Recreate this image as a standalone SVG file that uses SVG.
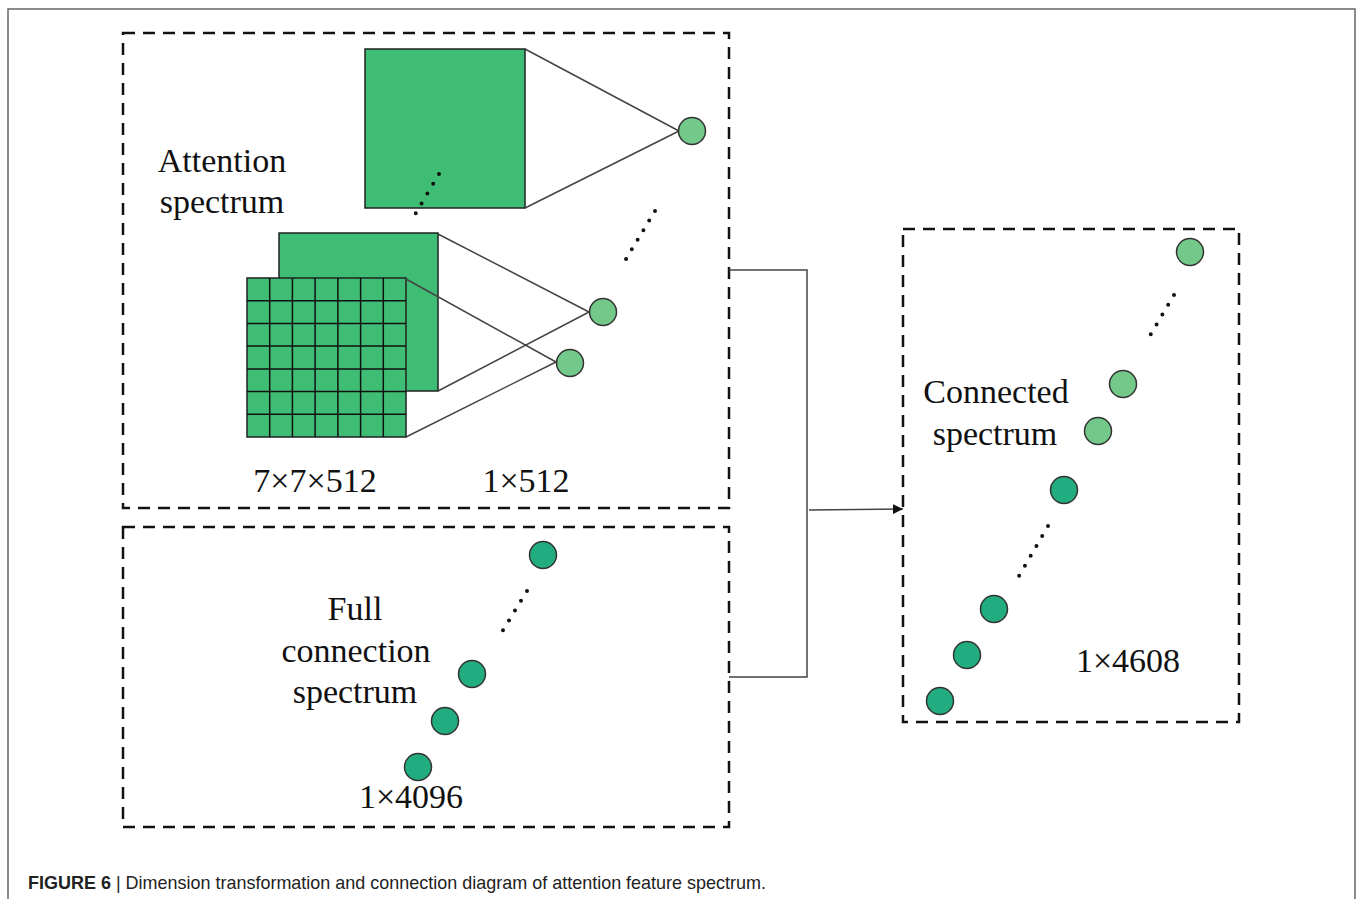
<svg xmlns="http://www.w3.org/2000/svg" width="1358" height="899" viewBox="0 0 1358 899">
<defs>
<style>
.box{fill:none;stroke:#111;stroke-width:2.5;stroke-dasharray:12 8}
.sq{fill:#3fbd74;stroke:#222;stroke-width:1.5}
.grid{stroke:#111;stroke-width:1.5}
.ln{stroke:#444;stroke-width:1.5;fill:none}
.lc{fill:#72c98a;stroke:#333;stroke-width:1.5}
.dc{fill:#21ad80;stroke:#333;stroke-width:1.5}
.dots{stroke:#111;stroke-width:4;stroke-linecap:round;fill:none}
.t{font-family:"Liberation Serif","Times New Roman",serif;font-size:34px;fill:#111;text-anchor:middle}
.cap{font-family:"Liberation Sans",Arial,sans-serif;font-size:19px;fill:#222}
</style>
<marker id="arr" viewBox="0 0 10 10" refX="10" refY="5" markerWidth="10" markerHeight="10" markerUnits="userSpaceOnUse" orient="auto">
<path d="M0,0 L10,5 L0,10 z" fill="#111"/>
</marker>
</defs>
<rect width="1358" height="899" fill="#fff"/>
<path d="M8,899 V9 H1355 V899" fill="none" stroke="#666" stroke-width="1.5"/>

<g id="attention-box">
<rect class="box" x="123" y="33" width="606" height="475"/>
<text class="t" x="222" y="172">Attention</text>
<text class="t" x="222" y="213">spectrum</text>
<rect class="sq" x="365" y="49" width="160" height="159"/>
<path class="ln" d="M525,49 L679,131 M525,208 L679,131"/>
<circle class="lc" cx="692" cy="131" r="13.5"/>
<path class="dots" d="M439,174 L410,223" stroke-dasharray="0 11.4"/>
<path class="dots" d="M655,211 L626,259" stroke-dasharray="0 11.2"/>
<rect class="sq" x="279" y="233" width="159" height="158"/>
<rect class="sq" x="247" y="278" width="159" height="159"/>
<path class="grid" d="M269.7,278V437 M292.4,278V437 M315.1,278V437 M337.9,278V437 M360.6,278V437 M383.3,278V437 M247,300.7H406 M247,323.4H406 M247,346.1H406 M247,368.9H406 M247,391.6H406 M247,414.3H406"/>
<path class="ln" d="M438,234 L589,312 M438,391 L589,312 M406,279 L556,362 M406,437 L556,362"/>
<circle class="lc" cx="603" cy="312" r="13.5"/>
<circle class="lc" cx="570" cy="363" r="13.5"/>
<text class="t" x="315" y="492">7×7×512</text>
<text class="t" x="526" y="492">1×512</text>
</g>

<g id="full-connection-box">
<rect class="box" x="123" y="527" width="606" height="300"/>
<text class="t" x="355" y="620">Full</text>
<text class="t" x="356" y="662">connection</text>
<text class="t" x="355" y="703">spectrum</text>
<circle class="dc" cx="543" cy="555" r="13.5"/>
<path class="dots" d="M527,591 L497,640" stroke-dasharray="0 11.5"/>
<circle class="dc" cx="472" cy="674" r="13.5"/>
<circle class="dc" cx="445" cy="721" r="13.5"/>
<circle class="dc" cx="418" cy="767" r="13.5"/>
<text class="t" x="411" y="808">1×4096</text>
</g>

<g id="connected-box">
<rect class="box" x="903" y="229" width="336" height="493"/>
<circle class="lc" cx="1190" cy="252" r="13.5"/>
<path class="dots" d="M1174,295 L1145,344" stroke-dasharray="0 11.4"/>
<circle class="lc" cx="1123" cy="384" r="13.5"/>
<circle class="lc" cx="1098" cy="431" r="13.5"/>
<text class="t" x="996" y="403">Connected</text>
<text class="t" x="995" y="445">spectrum</text>
<circle class="dc" cx="1064" cy="490" r="13.5"/>
<path class="dots" d="M1048,526 L1019,576" stroke-dasharray="0 11.5"/>
<circle class="dc" cx="994" cy="609" r="13.5"/>
<circle class="dc" cx="967" cy="655" r="13.5"/>
<circle class="dc" cx="940" cy="701" r="13.5"/>
<text class="t" x="1128" y="672">1×4608</text>
</g>

<g id="connectors">
<path class="ln" d="M729,270 H807 V677 H729"/>
<path class="ln" d="M809,510 L903,509" marker-end="url(#arr)"/>
</g>

<text class="cap" x="28" y="889" textLength="738" lengthAdjust="spacingAndGlyphs"><tspan font-weight="bold">FIGURE 6</tspan> | Dimension transformation and connection diagram of attention feature spectrum.</text>
</svg>
